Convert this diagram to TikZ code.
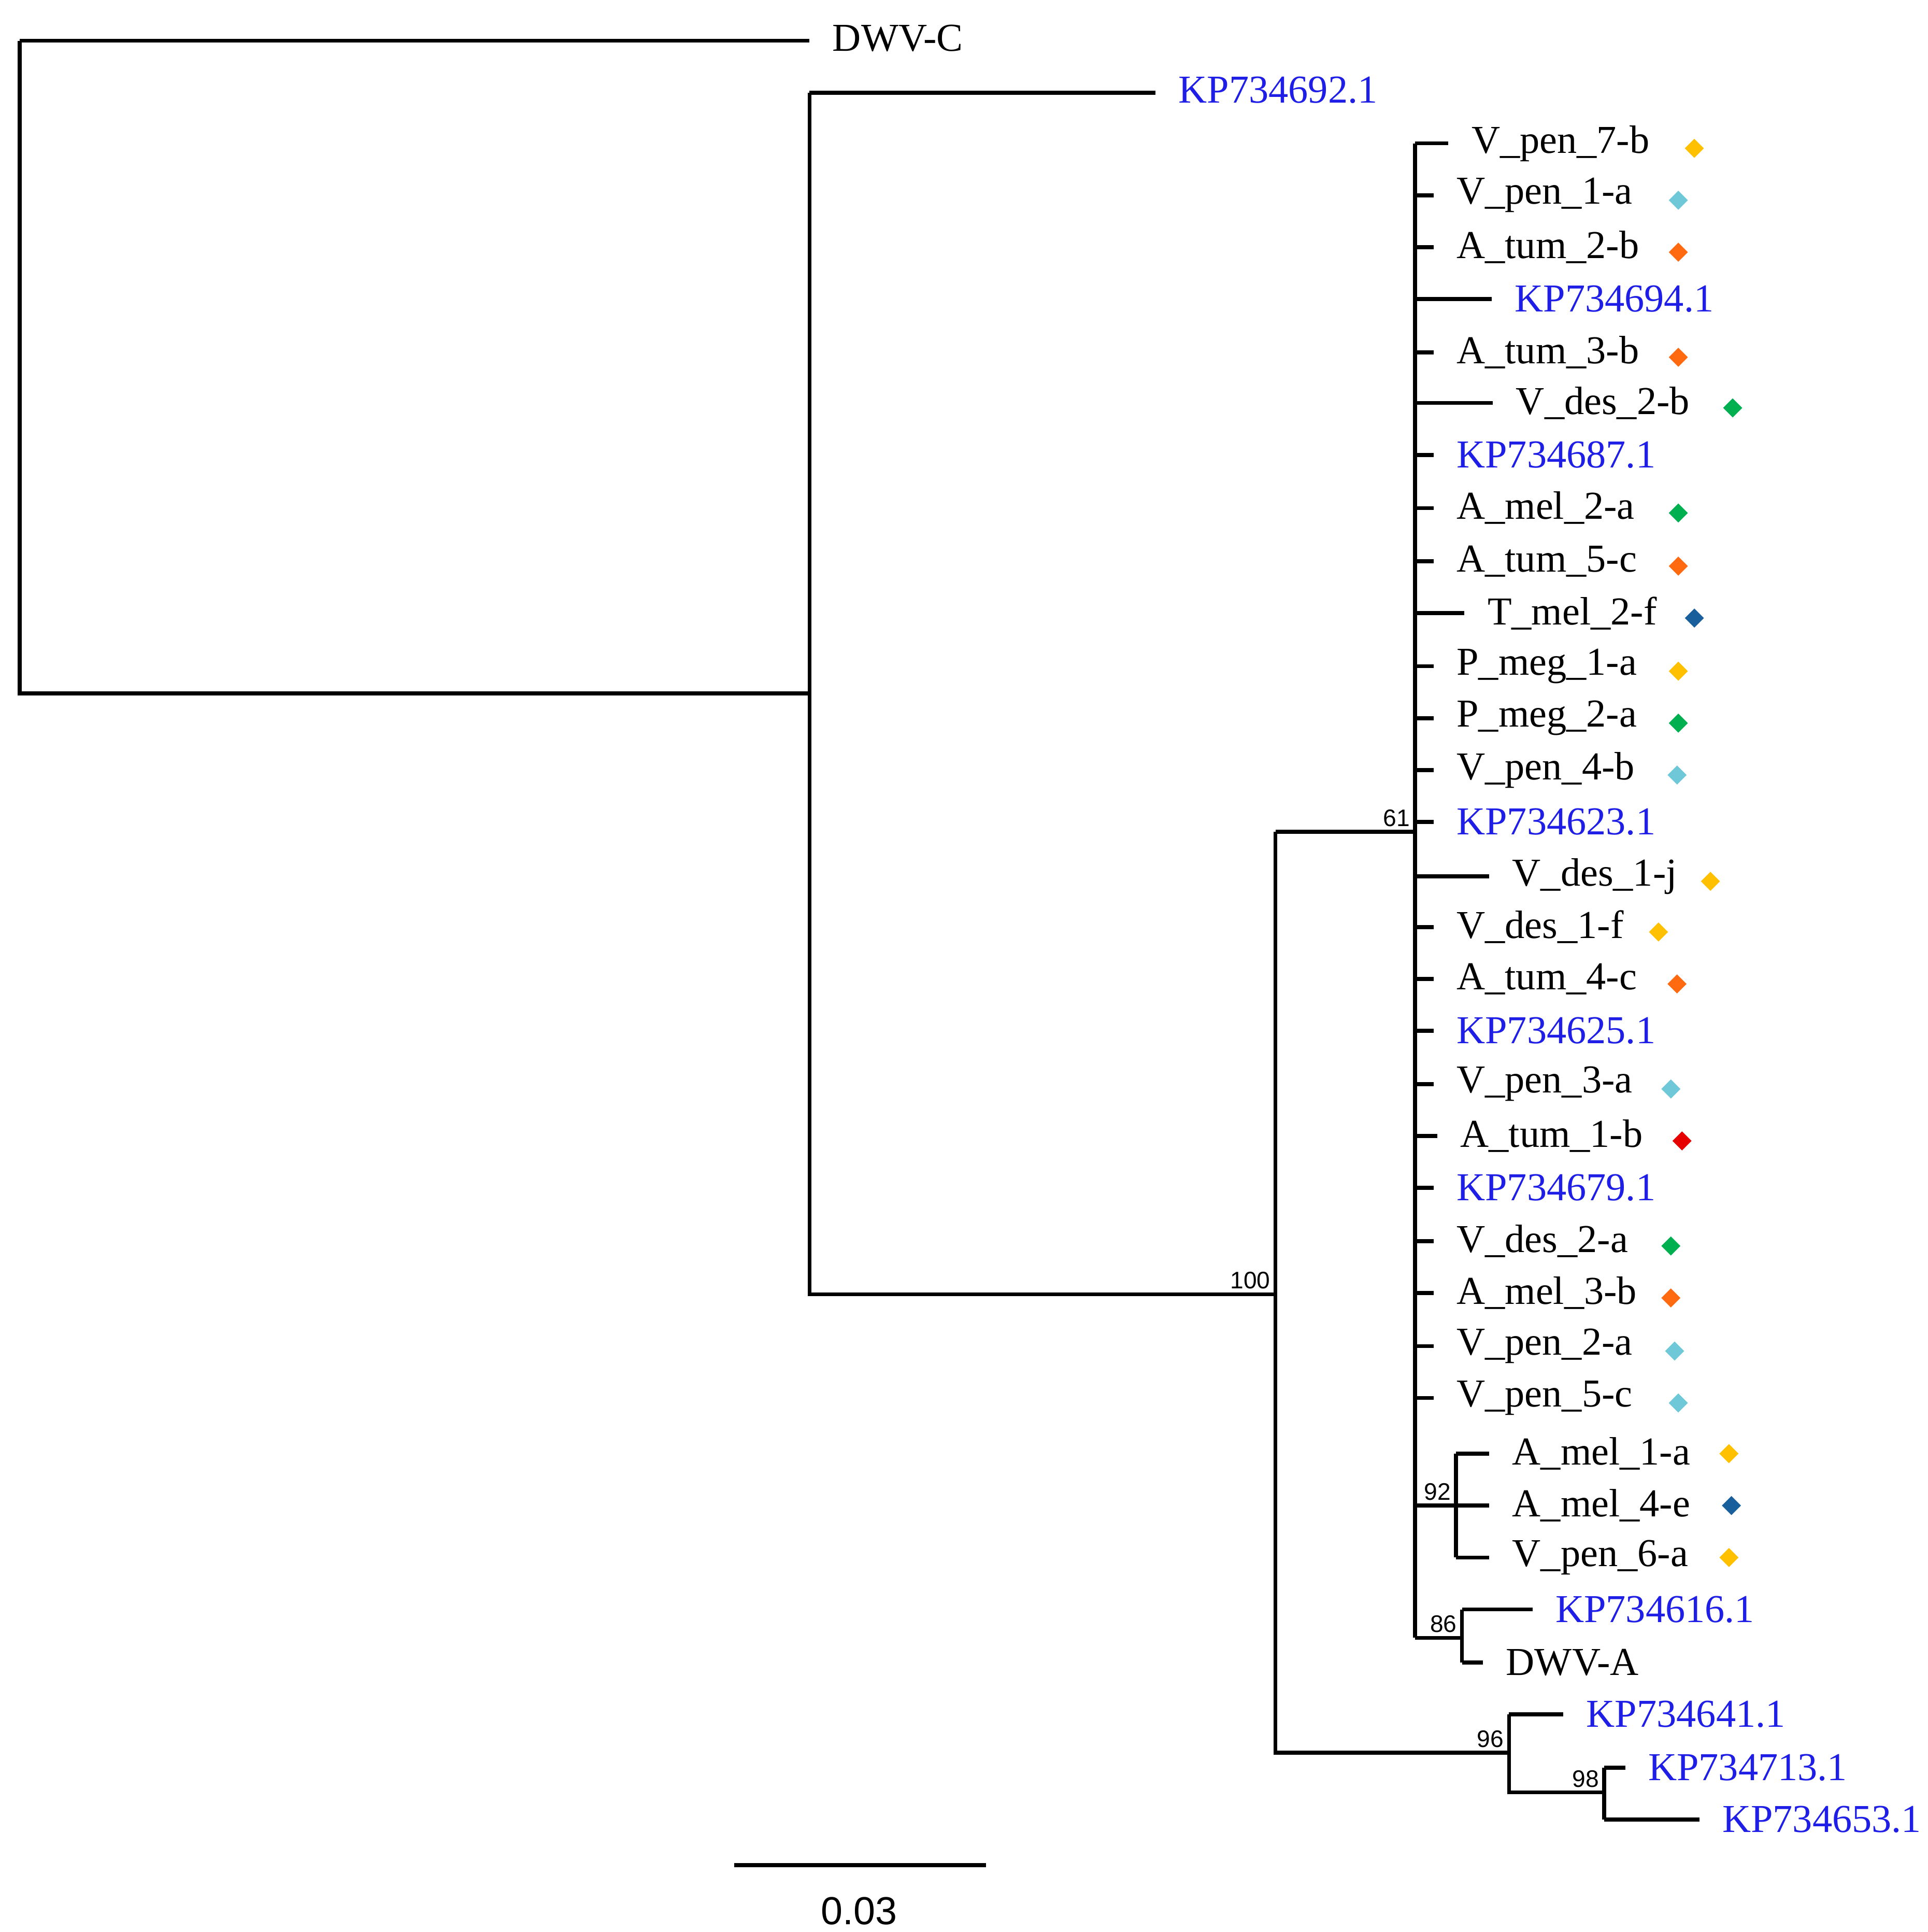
\documentclass[tikz,border=0pt]{standalone}
\usepackage{fontspec}
\setmainfont{Liberation Serif}
\newfontfamily\numfont{Liberation Sans}
\usetikzlibrary{shapes.geometric}
\definecolor{kpblue}{RGB}{30,30,230}
\definecolor{cy}{RGB}{255,192,0}
\definecolor{cl}{RGB}{110,200,216}
\definecolor{co}{RGB}{255,106,16}
\definecolor{cg}{RGB}{0,176,80}
\definecolor{cd}{RGB}{25,95,155}
\definecolor{cr}{RGB}{230,0,0}
\begin{document}
\begin{tikzpicture}[x=0.01cm,y=-0.01cm,
  br/.style={line width=0.9pt},
  lab/.style={anchor=west,inner xsep=0.18cm,inner ysep=0pt,font=\fontsize{9.1}{10}\selectfont},
  kp/.style={lab,text=kpblue},
  bs/.style={font=\numfont\fontsize{5.5}{6}\selectfont,inner sep=1pt},
  dm/.style={diamond,fill=#1,inner sep=0pt,minimum size=0.16cm}]
\useasboundingbox (0,0) rectangle (1560,1563);
% internal nodes
\coordinate (r) at (16,561);
\coordinate (n1) at (655,561);
\coordinate (n2) at (1032,1047);
\coordinate (n3) at (1145,673);
\coordinate (n4) at (1178,1218);
\coordinate (n5) at (1183,1325);
\coordinate (n6) at (1221,1418);
\coordinate (n7) at (1298,1450);
% root
\draw[br] (16,33) -- (16,561) -- (n1);
\node[lab] (dwvc) at (655,31) {DWV-C};
\draw[br] (16,33) -- (655,33);
\draw[br] (655,75) -- (655,1047) -- (n2);
\node[kp] (kp692) at (935,73) {KP734692.1};
\draw[br] (655,75) -- (935,75);
\node[bs,anchor=south east] at (n2) {100};
\draw[br] (1032,673) -- (1032,1418) -- (n6);
\draw[br] (1032,673) -- (n3);
\node[bs,anchor=south east] at (n3) {61};
\draw[br] (1145,116) -- (1145,1325);
% leaves of n3
\foreach \y/\e/\t/\s/\c/\dx in {
116/1172/V\_pen\_7-b/lab/cy/1371, 158/1160/V\_pen\_1-a/lab/cl/1358,
200/1160/A\_tum\_2-b/lab/co/1358, 242/1207/KP734694.1/kp//0,
285/1160/A\_tum\_3-b/lab/co/1358, 326/1208/V\_des\_2-b/lab/cg/1402,
368/1160/KP734687.1/kp//0, 411/1160/A\_mel\_2-a/lab/cg/1358,
454/1160/A\_tum\_5-c/lab/co/1358, 496/1185/T\_mel\_2-f/lab/cd/1371,
539/1160/P\_meg\_1-a/lab/cy/1358, 581/1160/P\_meg\_2-a/lab/cg/1358,
623/1160/V\_pen\_4-b/lab/cl/1357, 665/1160/KP734623.1/kp//0,
709/1205/V\_des\_1-j/lab/cy/1384, 750/1160/V\_des\_1-f/lab/cy/1342,
792/1160/A\_tum\_4-c/lab/co/1357, 834/1160/KP734625.1/kp//0,
877/1160/V\_pen\_3-a/lab/cl/1352, 919/1163/A\_tum\_1-b/lab/cr/1361,
961/1160/KP734679.1/kp//0, 1004/1160/V\_des\_2-a/lab/cg/1352,
1046/1160/A\_mel\_3-b/lab/co/1352, 1089/1160/V\_pen\_2-a/lab/cl/1355,
1131/1160/V\_pen\_5-c/lab/cl/1358}{
  \node[\s] (L\y) at (\e,\y) {\t};
  \draw[br] (1145,\y) -- (L\y.west);
  \ifnum\dx>0 \node[dm=\c] (D\y) at (\dx,\y+4) {};\fi
}
% clade 92
\draw[br] (1145,1218) -- (n4);
\node[bs,anchor=south east] at (n4) {92};
\draw[br] (1178,1176) -- (1178,1260);
\foreach \y/\t/\c/\dx in {1176/A\_mel\_1-a/cy/1399, 1218/A\_mel\_4-e/cd/1401, 1260/V\_pen\_6-a/cy/1399}{
  \node[lab] (L\y) at (1205,\y) {\t};
  \draw[br] (1178,\y) -- (L\y.west);
  \node[dm=\c] (D\y) at (\dx,\y) {};
}
% clade 86
\draw[br] (1145,1325) -- (n5);
\node[bs,anchor=south east] at (n5) {86};
\draw[br] (1183,1302) -- (1183,1345);
\node[kp] (kp616) at (1240,1302) {KP734616.1};
\draw[br] (1183,1302) -- (kp616.west);
\node[lab] (dwva) at (1200,1345) {DWV-A};
\draw[br] (1183,1345) -- (dwva.west);
% clade 96
\node[bs,anchor=south east] at (n6) {96};
\draw[br] (1221,1387) -- (1221,1450) -- (n7);
\node[kp] (kp641) at (1265,1387) {KP734641.1};
\draw[br] (1221,1387) -- (kp641.west);
\node[bs,anchor=south east] at (n7) {98};
\draw[br] (1298,1430) -- (1298,1472);
\node[kp] (kp713) at (1315,1430) {KP734713.1};
\draw[br] (1298,1430) -- (kp713.west);
\node[kp] (kp653) at (1375,1472) {KP734653.1};
\draw[br] (1298,1472) -- (kp653.west);
% scale bar
\coordinate (s1) at (594,1509);
\coordinate (s2) at (798,1509);
\draw[br] (s1) -- (s2);
\node[font=\numfont\fontsize{9}{10}\selectfont] (sl) at (695,1546) {0.03};
\end{tikzpicture}
\end{document}
